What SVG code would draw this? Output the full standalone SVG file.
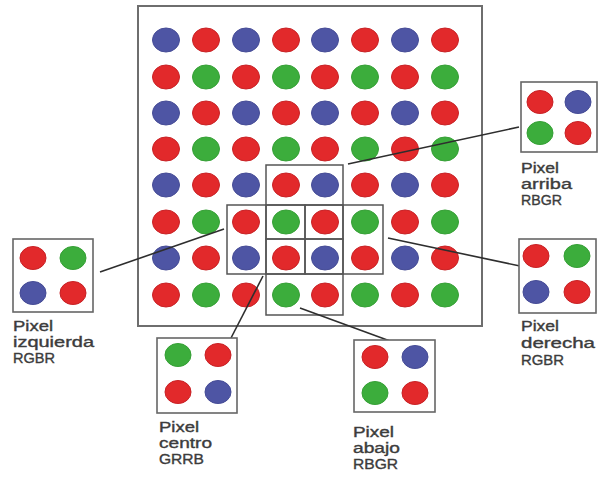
<svg xmlns="http://www.w3.org/2000/svg" width="598" height="481" viewBox="0 0 598 481">
<style>
.r{fill:#e2292b;stroke:#c82226;stroke-width:1}
.g{fill:#3cad3c;stroke:#36a036;stroke-width:1}
.b{fill:#4e55a4;stroke:#464c96;stroke-width:1}
.frame{fill:#ffffff;stroke:#6e6e6e;stroke-width:2}
.box{fill:none;stroke:#555555;stroke-width:1.5}
.sbox{fill:#ffffff;stroke:#666666;stroke-width:1.6}
.conn{stroke:#2e2e2e;stroke-width:1.6;fill:none}
.lbl{font-family:"Liberation Sans",Arial,sans-serif;font-size:13.8px;fill:#3c3c3c;stroke:#3c3c3c;stroke-width:0.35}
</style>
<defs>
<ellipse id="d" cx="0" cy="0" rx="13.5" ry="12"/>
<ellipse id="sd" cx="0" cy="0" rx="13" ry="11.5"/>
</defs>
<rect width="598" height="481" fill="#ffffff"/>
<g id="sensor">
<rect class="frame" x="138" y="6" width="344" height="320"/>
<g id="row0"><use href="#d" class="b" x="166" y="40"/><use href="#d" class="r" x="206" y="40"/><use href="#d" class="b" x="246" y="40"/><use href="#d" class="r" x="286" y="40"/><use href="#d" class="b" x="325" y="40"/><use href="#d" class="r" x="365" y="40"/><use href="#d" class="b" x="405" y="40"/><use href="#d" class="r" x="445" y="40"/></g>
<g id="row1"><use href="#d" class="r" x="166" y="77"/><use href="#d" class="g" x="206" y="77"/><use href="#d" class="r" x="246" y="77"/><use href="#d" class="g" x="286" y="77"/><use href="#d" class="r" x="325" y="77"/><use href="#d" class="g" x="365" y="77"/><use href="#d" class="r" x="405" y="77"/><use href="#d" class="g" x="445" y="77"/></g>
<g id="row2"><use href="#d" class="b" x="166" y="113"/><use href="#d" class="r" x="206" y="113"/><use href="#d" class="b" x="246" y="113"/><use href="#d" class="r" x="286" y="113"/><use href="#d" class="b" x="325" y="113"/><use href="#d" class="r" x="365" y="113"/><use href="#d" class="b" x="405" y="113"/><use href="#d" class="r" x="445" y="113"/></g>
<g id="row3"><use href="#d" class="r" x="166" y="149"/><use href="#d" class="g" x="206" y="149"/><use href="#d" class="r" x="246" y="149"/><use href="#d" class="g" x="286" y="149"/><use href="#d" class="r" x="325" y="149"/><use href="#d" class="g" x="365" y="149"/><use href="#d" class="r" x="405" y="149"/><use href="#d" class="g" x="445" y="149"/></g>
<g id="row4"><use href="#d" class="b" x="166" y="185"/><use href="#d" class="r" x="206" y="185"/><use href="#d" class="b" x="246" y="185"/><use href="#d" class="r" x="286" y="185"/><use href="#d" class="b" x="325" y="185"/><use href="#d" class="r" x="365" y="185"/><use href="#d" class="b" x="405" y="185"/><use href="#d" class="r" x="445" y="185"/></g>
<g id="row5"><use href="#d" class="r" x="166" y="222"/><use href="#d" class="g" x="206" y="222"/><use href="#d" class="r" x="246" y="222"/><use href="#d" class="g" x="286" y="222"/><use href="#d" class="r" x="325" y="222"/><use href="#d" class="g" x="365" y="222"/><use href="#d" class="r" x="405" y="222"/><use href="#d" class="g" x="445" y="222"/></g>
<g id="row6"><use href="#d" class="b" x="166" y="258"/><use href="#d" class="r" x="206" y="258"/><use href="#d" class="b" x="246" y="258"/><use href="#d" class="r" x="286" y="258"/><use href="#d" class="b" x="325" y="258"/><use href="#d" class="r" x="365" y="258"/><use href="#d" class="b" x="405" y="258"/><use href="#d" class="r" x="445" y="258"/></g>
<g id="row7"><use href="#d" class="r" x="166" y="295"/><use href="#d" class="g" x="206" y="295"/><use href="#d" class="r" x="246" y="295"/><use href="#d" class="g" x="286" y="295"/><use href="#d" class="r" x="325" y="295"/><use href="#d" class="g" x="365" y="295"/><use href="#d" class="r" x="405" y="295"/><use href="#d" class="g" x="445" y="295"/></g>
<g id="windows">
<rect class="box" x="266" y="165" width="77" height="74"/>
<rect class="box" x="227" y="205" width="78" height="69"/>
<rect class="box" x="305" y="205" width="78" height="69"/>
<rect class="box" x="266" y="205" width="77" height="69"/>
<rect class="box" x="266" y="239" width="77" height="76"/>
</g>
</g>
<g id="connectors">
<line class="conn" x1="348" y1="164" x2="519" y2="127"/>
<line class="conn" x1="100" y1="272" x2="224" y2="229"/>
<line class="conn" x1="388" y1="238" x2="520" y2="266"/>
<line class="conn" x1="263" y1="276" x2="231" y2="338"/>
<line class="conn" x1="300" y1="308" x2="390" y2="341"/>
</g>
<g id="izquierda">
<rect class="sbox" x="13" y="239" width="80" height="73"/>
<use href="#sd" class="r" x="33" y="258"/><use href="#sd" class="g" x="73" y="258"/>
<use href="#sd" class="b" x="33" y="293"/><use href="#sd" class="r" x="73" y="293"/>
<text class="lbl" x="13" y="331" textLength="40" lengthAdjust="spacingAndGlyphs">Pixel</text>
<text class="lbl" x="13" y="347" textLength="81" lengthAdjust="spacingAndGlyphs">izquierda</text>
<text class="lbl" x="13" y="363" textLength="42" lengthAdjust="spacingAndGlyphs">RGBR</text>
</g>
<g id="arriba">
<rect class="sbox" x="521" y="82" width="76" height="70"/>
<use href="#sd" class="r" x="540" y="102"/><use href="#sd" class="b" x="578" y="102"/>
<use href="#sd" class="g" x="540" y="133"/><use href="#sd" class="r" x="578" y="133"/>
<text class="lbl" x="521" y="173" textLength="38" lengthAdjust="spacingAndGlyphs">Pixel</text>
<text class="lbl" x="521" y="189" textLength="51" lengthAdjust="spacingAndGlyphs">arriba</text>
<text class="lbl" x="521" y="205" textLength="41" lengthAdjust="spacingAndGlyphs">RBGR</text>
</g>
<g id="derecha">
<rect class="sbox" x="519" y="239" width="77" height="74"/>
<use href="#sd" class="r" x="536" y="256"/><use href="#sd" class="g" x="577" y="256"/>
<use href="#sd" class="b" x="536" y="292"/><use href="#sd" class="r" x="577" y="292"/>
<text class="lbl" x="521" y="331" textLength="38" lengthAdjust="spacingAndGlyphs">Pixel</text>
<text class="lbl" x="521" y="348" textLength="74" lengthAdjust="spacingAndGlyphs">derecha</text>
<text class="lbl" x="521" y="365" textLength="43" lengthAdjust="spacingAndGlyphs">RGBR</text>
</g>
<g id="centro">
<rect class="sbox" x="157" y="338" width="80" height="75"/>
<use href="#sd" class="g" x="178" y="355"/><use href="#sd" class="r" x="218" y="355"/>
<use href="#sd" class="r" x="178" y="392"/><use href="#sd" class="b" x="218" y="392"/>
<text class="lbl" x="159" y="432" textLength="40" lengthAdjust="spacingAndGlyphs">Pixel</text>
<text class="lbl" x="159" y="448" textLength="53" lengthAdjust="spacingAndGlyphs">centro</text>
<text class="lbl" x="159" y="464" textLength="45" lengthAdjust="spacingAndGlyphs">GRRB</text>
</g>
<g id="abajo">
<rect class="sbox" x="354" y="340" width="81" height="72"/>
<use href="#sd" class="r" x="375" y="357"/><use href="#sd" class="b" x="415" y="357"/>
<use href="#sd" class="g" x="375" y="393"/><use href="#sd" class="r" x="415" y="393"/>
<text class="lbl" x="353" y="437" textLength="41" lengthAdjust="spacingAndGlyphs">Pixel</text>
<text class="lbl" x="353" y="453" textLength="47" lengthAdjust="spacingAndGlyphs">abajo</text>
<text class="lbl" x="353" y="469" textLength="45" lengthAdjust="spacingAndGlyphs">RBGR</text>
</g>
</svg>
